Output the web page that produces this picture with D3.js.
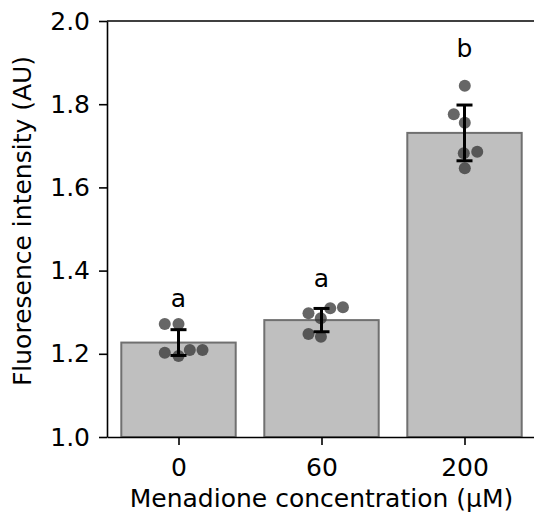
<!DOCTYPE html>
<html>
<head>
<meta charset="utf-8">
<script src="https://cdn.jsdelivr.net/npm/d3@7"></script>
<style>
  body { margin: 0; background: #fff; }
  svg { display: block; font-family: "DejaVu Sans", sans-serif; }
</style>
</head>
<body>
<div id="chart"></div>
<script>
// categories and bar heights (mean fluorescence)
const concentrations = ["0", "60", "200"];
const means = [1.227, 1.281, 1.731];
const errors = [0.031, 0.028, 0.067];
const groupLetters = ["a", "a", "b"];
const letterY = [1.3125, 1.3606, 1.9127];

// individual replicates, with horizontal swarm offsets (in category units)
const pointValues = [
    [1.2716, 1.2716, 1.2026, 1.1947, 1.2091, 1.2091],
    [1.2974, 1.2853, 1.3094, 1.3118, 1.2476, 1.2411],
    [1.8445, 1.7757, 1.7555, 1.6858, 1.6820, 1.6459]
];
const pointOffsets = [
    [-0.096, 0, -0.096, 0, 0.079, 0.168],
    [-0.091, -0.005, 0.061, 0.150, -0.091, -0.004],
    [0.002, -0.075, 0.002, 0.089, -0.005, 0.002]
];
const yTicks = [1.0, 1.2, 1.4, 1.6, 1.8, 2.0];

const width = 534;
const height = 515;
const margin = { top: 21, right: -2, bottom: 78, left: 107 };
const fontSize = 25;

const svg = d3.select("#chart").append("svg")
    .attr("width", width)
    .attr("height", height);

const x = d3.scaleLinear()
    .domain([-0.5, 2.5])
    .range([margin.left, width - margin.right]);

const y = d3.scaleLinear()
    .domain([1.0, 2.0])
    .range([height - margin.bottom, margin.top]);

const barWidth = 0.8;

// bars
svg.append("g").selectAll("rect")
    .data(means)
    .enter()
    .append("rect")
    .attr("x", (d, i) => x(i - barWidth / 2))
    .attr("y", d => y(d))
    .attr("width", x(barWidth) - x(0))
    .attr("height", d => y(1.0) - y(d))
    .attr("fill", "#bfbfbf")
    .attr("stroke", "#707070")
    .attr("stroke-width", 2);

// replicate points
const points = [];
pointValues.forEach((vals, i) => {
    vals.forEach((v, j) => points.push({ group: i, value: v, off: pointOffsets[i][j] }));
});

svg.append("g").selectAll("circle")
    .data(points)
    .enter()
    .append("circle")
    .attr("cx", d => x(d.group + d.off))
    .attr("cy", d => y(d.value))
    .attr("r", 6)
    .attr("fill", "#333")
    .attr("fill-opacity", 0.75);

// error bars
const err = svg.append("g")
    .attr("stroke", "#000")
    .attr("stroke-width", 3);

means.forEach((m, i) => {
    const cx = x(i);
    err.append("line")
        .attr("x1", cx).attr("x2", cx)
        .attr("y1", y(m - errors[i])).attr("y2", y(m + errors[i]));
    [m - errors[i], m + errors[i]].forEach(v => {
        err.append("line")
            .attr("x1", cx - 8).attr("x2", cx + 8)
            .attr("y1", y(v)).attr("y2", y(v));
    });
});

// significance letters
svg.append("g").selectAll("text")
    .data(groupLetters)
    .enter()
    .append("text")
    .attr("x", (d, i) => x(i))
    .attr("y", (d, i) => y(letterY[i]))
    .attr("text-anchor", "middle")
    .attr("font-size", fontSize)
    .text(d => d);

// axes
const xAxis = svg.append("g")
    .attr("transform", `translate(0,${y(1.0)})`)
    .call(d3.axisBottom(x)
        .tickValues([0, 1, 2])
        .tickFormat(i => concentrations[i])
        .tickSize(8)
        .tickPadding(13)
        .tickSizeOuter(0));

const yAxis = svg.append("g")
    .attr("transform", `translate(${x(-0.5)},0)`)
    .call(d3.axisLeft(y)
        .tickValues(yTicks)
        .tickFormat(d3.format(".1f"))
        .tickSize(8)
        .tickPadding(9)
        .tickSizeOuter(0));

[xAxis, yAxis].forEach(g => {
    g.select(".domain").attr("stroke", "#000").attr("stroke-width", 1.6);
    g.selectAll(".tick line").attr("stroke", "#000").attr("stroke-width", 1.6);
    g.selectAll(".tick text")
        .attr("fill", "#000")
        .attr("font-size", fontSize)
        .attr("font-family", "DejaVu Sans, sans-serif");
});

// top and right spines
svg.append("line")
    .attr("x1", x(-0.5)).attr("x2", x(2.5))
    .attr("y1", y(2.0)).attr("y2", y(2.0))
    .attr("stroke", "#000").attr("stroke-width", 1.6);
svg.append("line")
    .attr("x1", x(2.5)).attr("x2", x(2.5))
    .attr("y1", y(1.0)).attr("y2", y(2.0))
    .attr("stroke", "#000").attr("stroke-width", 1.6);

// axis titles
svg.append("text")
    .attr("x", x(1))
    .attr("y", 507)
    .attr("text-anchor", "middle")
    .attr("font-size", fontSize)
    .text("Menadione concentration (µM)");

svg.append("text")
    .attr("transform", `translate(31,221) rotate(-90)`)
    .attr("text-anchor", "middle")
    .attr("font-size", fontSize)
    .text("Fluoresence intensity (AU)");
</script>
</body>
</html>
